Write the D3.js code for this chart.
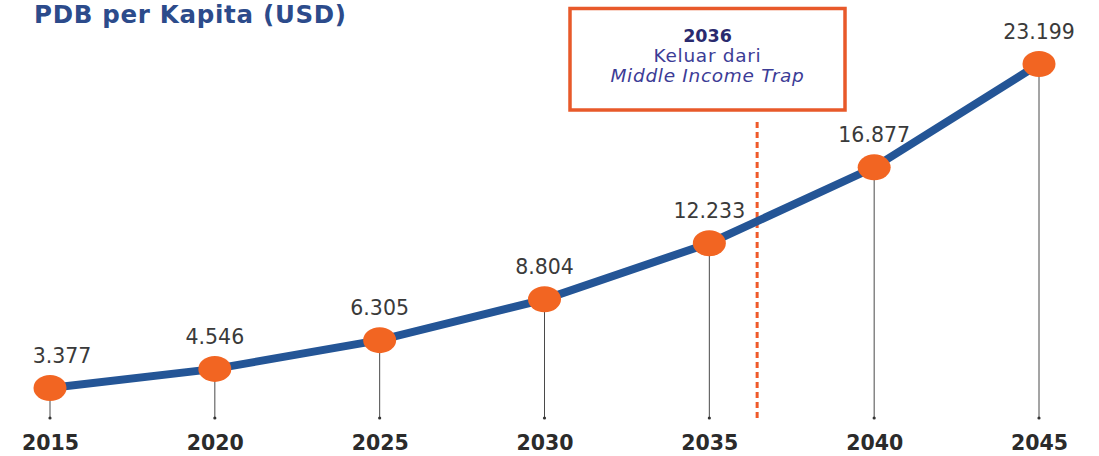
<!DOCTYPE html>
<html><head><meta charset="utf-8">
<script src="https://cdn.jsdelivr.net/npm/d3@7/dist/d3.min.js"></script>
<style>body{margin:0;background:#fff;}svg{display:block;}</style>
</head><body>
<svg id="chart" width="1099" height="456"></svg>
<script>
const years = [2015, 2020, 2025, 2030, 2035, 2040, 2045];
const values = [3377, 4546, 6305, 8804, 12233, 16877, 23199];
const valueLabels = ["3.377", "4.546", "6.305", "8.804", "12.233", "16.877", "23.199"];
const title = "PDB per Kapita (USD)";
const markerYear = 2036.45;
const annotationLines = ["2036", "Keluar dari", "Middle Income Trap"];

const svg = d3.select("#chart");
const x = d3.scaleLinear().domain([2015, 2045]).range([50, 1039]);
const y = d3.scaleLinear().domain([0, 23199]).range([443.2, 64]);
const baseY = 418;

svg.append("text").attr("x", 34).attr("y", 23)
  .attr("font-family", "DejaVu Sans").attr("font-weight", 700).attr("font-size", 24.5)
  .attr("letter-spacing", 0.7)
  .attr("fill", "#2c4b8b").text(title);

// year labels via axis
const axis = d3.axisBottom(x).tickValues(years).tickFormat(d3.format("d")).tickSize(0).tickPadding(0);
const ag = svg.append("g").attr("transform", "translate(0,450)").call(axis);
ag.select(".domain").remove();
ag.selectAll("text").attr("font-family", "DejaVu Sans").attr("font-weight", 700)
  .attr("font-size", 20.5).attr("fill", "#2b2b2b").attr("dy", "0");

// drop lines
const data = years.map((yr, i) => ({yr, v: values[i], label: valueLabels[i]}));
svg.append("g").selectAll("line").data(data).join("line")
  .attr("x1", d => x(d.yr)).attr("x2", d => x(d.yr))
  .attr("y1", d => y(d.v)).attr("y2", baseY)
  .attr("stroke", "#4a4a4a").attr("stroke-width", 1);
svg.append("g").selectAll("circle").data(data).join("circle")
  .attr("cx", d => x(d.yr)).attr("cy", baseY).attr("r", 1.6).attr("fill", "#333");

// dashed marker
svg.append("line").attr("x1", x(markerYear)).attr("x2", x(markerYear))
  .attr("y1", 122).attr("y2", 422)
  .attr("stroke", "#ef5a2a").attr("stroke-width", 3).attr("stroke-dasharray", "6,4");

// main line
svg.append("path").datum(data)
  .attr("d", d3.line().x(d => x(d.yr)).y(d => y(d.v)))
  .attr("fill", "none").attr("stroke", "#245596").attr("stroke-width", 8);

// markers
svg.append("g").selectAll("ellipse").data(data).join("ellipse")
  .attr("cx", d => x(d.yr)).attr("cy", d => y(d.v))
  .attr("rx", 16.5).attr("ry", 13).attr("fill", "#f26522");

// value labels
svg.append("g").selectAll("text").data(data).join("text")
  .attr("x", d => Math.max(x(d.yr), 62)).attr("y", d => y(d.v) - 25)
  .attr("text-anchor", "middle").attr("font-family", "DejaVu Sans").attr("font-size", 20.5)
  .attr("fill", "#3a3a3a").text(d => d.label);

// annotation box
const bx = 570, bw = 275, by = 8.5, bh = 101.5;
svg.append("rect").attr("x", bx).attr("y", by).attr("width", bw).attr("height", bh)
  .attr("fill", "#fff").attr("stroke", "#e8592a").attr("stroke-width", 3.5);
const cx = bx + bw / 2;
svg.append("text").attr("x", cx).attr("y", 42).attr("text-anchor", "middle")
  .attr("font-family", "DejaVu Sans").attr("font-weight", 700).attr("font-size", 17.5)
  .attr("fill", "#2a2a6e").text(annotationLines[0]);
svg.append("text").attr("x", cx).attr("y", 61.5).attr("text-anchor", "middle")
  .attr("font-family", "DejaVu Sans").attr("font-size", 18.5).attr("letter-spacing", 0.7)
  .attr("fill", "#3c3c96").text(annotationLines[1]);
svg.append("text").attr("x", cx).attr("y", 81.5).attr("text-anchor", "middle")
  .attr("font-family", "DejaVu Sans").attr("font-style", "italic").attr("font-size", 18.5)
  .attr("letter-spacing", 0.7)
  .attr("fill", "#3c3c96").text(annotationLines[2]);
</script>
</body></html>
